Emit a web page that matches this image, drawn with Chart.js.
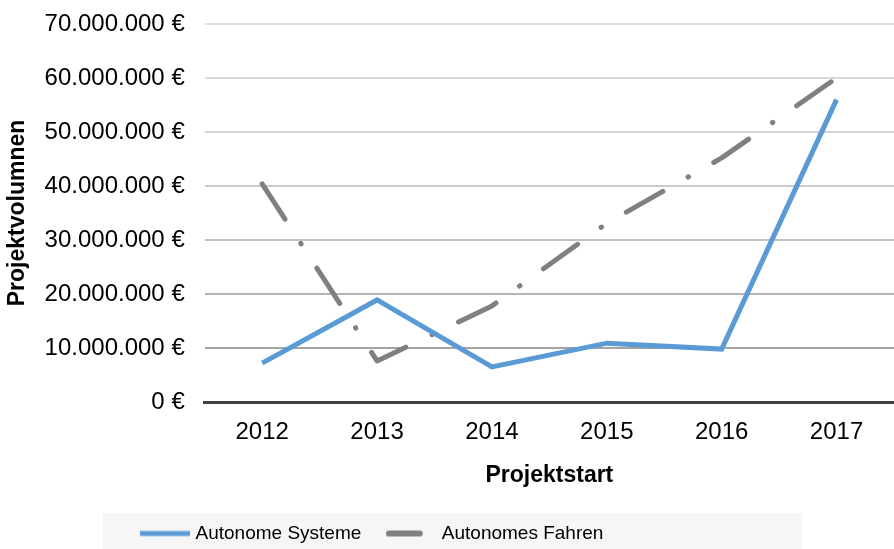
<!DOCTYPE html>
<html>
<head>
<meta charset="utf-8">
<script src="https://cdn.jsdelivr.net/npm/chart.js@4"></script>
<style>
    html, body { margin: 0; padding: 0; background: #fff; }
    #wrap { width: 894px; height: 549px; }
</style>
</head>
<body>
<div id="wrap"><canvas id="chart"></canvas></div>
<script>
// ----- DATEN -----
const jahre = ["2012", "2013", "2014", "2015", "2016", "2017"];
const autonomeSysteme = [7200000, 18900000, 6500000, 10900000, 9800000, 56000000];
const autonomesFahren = [40400000, 7600000, 17800000, 33100000, 45200000, 60000000];
const yTicks = [0, 10000000, 20000000, 30000000, 40000000, 50000000, 60000000, 70000000];

const FONT = "'Liberation Sans', Arial, sans-serif";
const gridFarben = ["rgba(0,0,0,0)", "#a3a3a3", "#b5b5b5", "#c2c2c2", "#cbcbcb", "#d3d3d3", "#d9d9d9", "#dedede"];

function euro(v) {
    return String(Math.round(v)).replace(/\B(?=(\d{3})+(?!\d))/g, ".") + " €";
}

// ----- LEGENDEN-SYMBOLE -----
function legendLine(color, dashed) {
    const c = document.createElement("canvas");
    c.width = 50;
    c.height = 10;
    const ctx = c.getContext("2d");
    ctx.strokeStyle = color;
    ctx.lineWidth = dashed ? 6 : 5;
    ctx.lineCap = dashed ? "round" : "butt";
    ctx.beginPath();
    if (dashed) {
        ctx.moveTo(3, 5);
        ctx.lineTo(34, 5);
    } else {
        ctx.moveTo(0, 5);
        ctx.lineTo(50, 5);
    }
    ctx.stroke();
    return c;
}
const symbole = [legendLine("#5b9bd5", false), legendLine("#808080", true)];

// legend: start alignment inside a light gray band
const legendBand = {
    id: "legendBand",
    afterLayout(chart) {
        const lg = chart.legend;
        lg.left = 115;
        lg.right = 802;
        lg.top += 4;
        lg.bottom += 4;
    },
    beforeDraw(chart) {
        const ctx = chart.ctx;
        ctx.save();
        ctx.fillStyle = "#f6f6f6";
        ctx.fillRect(103, 513, 699, 36);
        ctx.restore();
    }
};

function noPadding(scale) {
    scale.paddingTop = 0;
    scale.paddingBottom = 0;
    scale.paddingLeft = 0;
    scale.paddingRight = 0;
}

new Chart(document.getElementById("chart"), {
    type: "line",
    data: {
        labels: jahre,
        datasets: [{
            label: "Autonome Systeme",
            data: autonomeSysteme,
            borderColor: "#5b9bd5",
            borderWidth: 5,
            borderJoinStyle: "miter",
            pointRadius: 0,
            tension: 0
        }, {
            label: "Autonomes Fahren",
            data: autonomesFahren,
            borderColor: "#808080",
            borderWidth: 5,
            borderDash: [42, 29, 0.5, 29],
            borderCapStyle: "round",
            borderJoinStyle: "round",
            pointRadius: 0,
            tension: 0
        }]
    },
    options: {
        responsive: true,
        maintainAspectRatio: false,
        animation: false,
        layout: { padding: { top: 24, right: 0, bottom: 0, left: 0 } },
        plugins: {
            tooltip: { enabled: false },
            legend: {
                position: "bottom",
                align: "start",
                labels: {
                    usePointStyle: true,
                    pointStyleWidth: 43,
                    padding: 28,
                    color: "#000",
                    font: { family: FONT, size: 19 },
                    generateLabels(chart) {
                        return chart.data.datasets.map((ds, i) => ({
                            text: ds.label,
                            pointStyle: symbole[i],
                            datasetIndex: i,
                            fontColor: "#000",
                            lineWidth: 0,
                            strokeStyle: "rgba(0,0,0,0)",
                            fillStyle: "rgba(0,0,0,0)"
                        }));
                    }
                }
            }
        },
        scales: {
            x: {
                offset: true,
                afterFit: noPadding,
                grid: { display: false, drawTicks: false },
                border: { display: true, color: "#404040", width: 3 },
                ticks: { color: "#000", padding: 15.6, maxRotation: 0, minRotation: 0, font: { family: FONT, size: 24 } },
                title: {
                    display: true,
                    text: "Projektstart",
                    color: "#000",
                    font: { family: FONT, size: 23, weight: "bold" },
                    padding: { top: 0, bottom: 2.4 }
                }
            },
            y: {
                min: 0,
                max: 70000000,
                afterFit: noPadding,
                afterBuildTicks(axis) {
                    axis.ticks = yTicks.map(v => ({ value: v }));
                },
                grid: {
                    drawTicks: false,
                    lineWidth: 2,
                    color: ctx => gridFarben[ctx.index] || "#d9d9d9"
                },
                border: { display: false },
                ticks: {
                    color: "#000",
                    padding: 20,
                    font: { family: FONT, size: 24 },
                    callback: v => euro(v)
                },
                title: {
                    display: true,
                    text: "Projektvolumnen",
                    color: "#000",
                    font: { family: FONT, size: 23, weight: "bold" },
                    padding: { top: 4, bottom: -7 }
                }
            }
        }
    },
    plugins: [legendBand]
});
</script>
</body>
</html>
